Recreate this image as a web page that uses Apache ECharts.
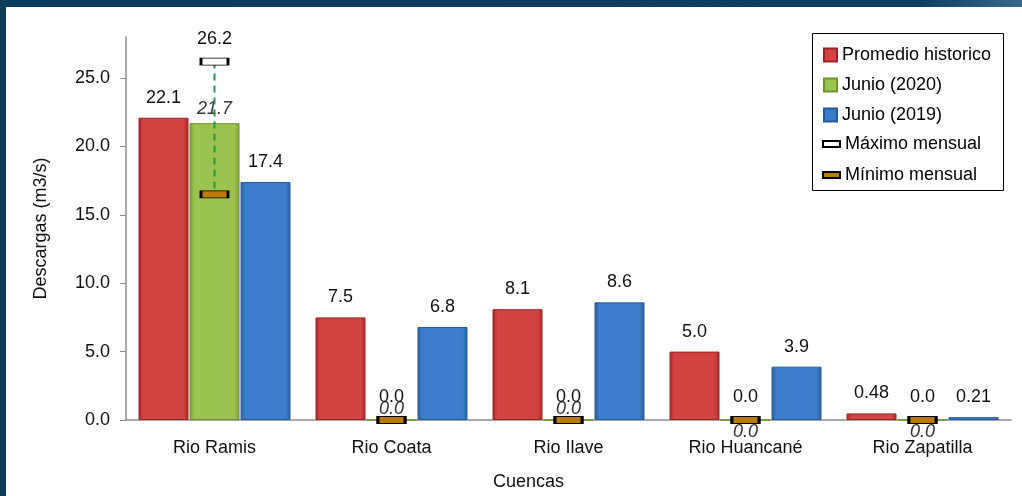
<!DOCTYPE html>
<html>
<head>
<meta charset="utf-8">
<script src="https://cdn.jsdelivr.net/npm/echarts@6/dist/echarts.min.js"></script>
<style>
html,body{margin:0;padding:0;background:#fff;}
#c{width:1022px;height:496px;}
</style>
</head>
<body>
<div id="c"></div>
<script>
const categories = ['Rio Ramis', 'Rio Coata', 'Rio Ilave', 'Rio Huancané', 'Rio Zapatilla'];
const promedio = [22.1, 7.5, 8.1, 5.0, 0.48];
const junio2020 = [21.7, 0.0, 0.0, 0.0, 0.0];
const junio2019 = [17.4, 6.8, 8.6, 3.9, 0.21];
const maximo = [26.2, 0.0, 0.0, 0.0, 0.0];
const minimo = [16.5, 0.0, 0.0, 0.0, 0.0];
const yTicks = [0, 5, 10, 15, 20, 25];

const FONT = 'Liberation Sans, Arial, sans-serif';
const fmt = v => (v > 0 && v < 1) ? v.toFixed(2) : v.toFixed(1);

// label placement styling for the green series (per category)
const greenLabelPos = [['top', 5], ['top', 2], ['top', 2], ['bottom', 2], ['bottom', 2]];

function barGrad(mid, dark) {
  return new echarts.graphic.LinearGradient(0, 0, 1, 0, [
    {offset: 0, color: dark}, {offset: 0.1, color: mid}, {offset: 0.9, color: mid}, {offset: 1, color: dark}
  ]);
}
const redFill = barGrad('#d44242', '#a82a2a');
const greenFill = barGrad('#9cc34f', '#76a032');
const blueFill = barGrad('#3b7dcb', '#2a5f9e');

const chart = echarts.init(document.getElementById('c'), null, {renderer: 'canvas'});

const barLabel = {
  show: true, position: 'top', distance: 11, color: '#111', fontSize: 18, fontFamily: FONT,
  formatter: p => fmt(p.value)
};

const option = {
  backgroundColor: '#fff',
  animation: false,
  textStyle: {fontFamily: FONT},
  graphic: [
    {type: 'rect', shape: {x: 0, y: 0, width: 1022, height: 7}, style: {fill: new echarts.graphic.LinearGradient(0, 0, 1, 0, [{offset: 0, color: '#0c3b5b'}, {offset: 0.9, color: '#0e3f60'}, {offset: 1, color: '#3a6a8a'}])}, z: 100},
    {type: 'rect', shape: {x: 0, y: 0, width: 6, height: 496}, style: {fill: '#0c3b5b'}, z: 100},
    {type: 'rect', shape: {x: 812.5, y: 33.5, width: 191, height: 157}, style: {fill: '#fff', stroke: '#000', lineWidth: 1}, z: 1}
  ],
  legend: [
    {
      orient: 'vertical', left: 818, top: 41, itemWidth: 13, itemHeight: 13, itemGap: 12, icon: 'rect',
      itemTextGap: 6,
      textStyle: {fontSize: 18, color: '#000', fontFamily: FONT},
      data: ['Promedio historico', 'Junio (2020)', 'Junio (2019)'],
      z: 10
    },
    {
      orient: 'vertical', left: 817, top: 130, itemWidth: 17, itemHeight: 6, itemGap: 13, icon: 'rect',
      itemTextGap: 5,
      textStyle: {fontSize: 18, color: '#000', fontFamily: FONT},
      data: ['Máximo mensual', 'Mínimo mensual'],
      z: 10
    }
  ],
  grid: {left: 126, right: 11, top: 37, bottom: 75, containLabel: false},
  xAxis: {
    type: 'category', data: categories,
    axisLine: {lineStyle: {color: '#8c8c8c', width: 1.5}},
    axisTick: {show: false},
    axisLabel: {color: '#111', fontSize: 18, margin: 19, fontFamily: FONT},
    name: 'Cuencas', nameLocation: 'middle', nameGap: 53,
    nameTextStyle: {color: '#111', fontSize: 18, fontFamily: FONT, padding: [0, 80, 0, 0]}
  },
  yAxis: {
    type: 'value', min: 0, max: 28, interval: 5,
    splitLine: {show: false},
    axisLine: {show: true, lineStyle: {color: '#8c8c8c', width: 1.5}},
    axisTick: {show: true, length: 6, lineStyle: {color: '#8c8c8c'}},
    axisLabel: {color: '#111', fontSize: 18, margin: 16, fontFamily: FONT, showMaxLabel: false,
      formatter: v => yTicks.indexOf(v) >= 0 ? v.toFixed(1) : ''},
    name: 'Descargas (m3/s)', nameLocation: 'middle', nameGap: 76, nameRotate: 90,
    nameTextStyle: {color: '#111', fontSize: 18, fontFamily: FONT}
  },
  series: [
    {
      name: 'Promedio historico', type: 'bar', data: promedio, barWidth: 50, barGap: '2%',
      itemStyle: {color: redFill, borderColor: '#9a2424', borderWidth: 1},
      label: barLabel, z: 2
    },
    {
      name: 'Junio (2020)', type: 'bar', data: junio2020.map((v, i) => ({
        value: v,
        label: {position: greenLabelPos[i][0], distance: greenLabelPos[i][1]}
      })), barWidth: 50, barGap: '2%',
      itemStyle: {color: greenFill, borderColor: '#6d9430', borderWidth: 1},
      label: {show: true, color: '#333', fontSize: 18, fontStyle: 'italic', fontFamily: FONT, formatter: p => fmt(p.value)},
      z: 2
    },
    {
      name: 'Junio (2019)', type: 'bar', data: junio2019, barWidth: 50, barGap: '2%',
      itemStyle: {color: blueFill, borderColor: '#2a5a96', borderWidth: 1},
      label: barLabel, z: 2
    },
    {
      name: 'range', type: 'custom', z: 4,
      data: maximo.map((v, i) => [i, v, minimo[i]]),
      renderItem: function (params, api) {
        const p1 = api.coord([api.value(0), api.value(1)]);
        const p2 = api.coord([api.value(0), api.value(2)]);
        return {type: 'line', shape: {x1: p1[0], y1: p1[1], x2: p2[0], y2: p2[1]},
          style: {stroke: '#16a046', lineWidth: 2, lineDash: [7, 5]}};
      },
      silent: true
    },
    {
      name: 'Máximo mensual', type: 'scatter', data: maximo, symbol: 'rect', symbolSize: [27, 7],
      itemStyle: {color: '#fff', borderColor: '#000', borderWidth: 1.5, opacity: 1},
      label: {show: true, position: 'top', distance: 10, color: '#111', fontSize: 18, fontFamily: FONT, opacity: 1, formatter: p => fmt(p.value)},
      z: 5
    },
    {
      name: 'Mínimo mensual', type: 'scatter', data: minimo, symbol: 'rect', symbolSize: [27, 7],
      itemStyle: {color: '#b97c0a', borderColor: '#000', borderWidth: 1.5, opacity: 1},
      z: 6
    }
  ]
};
chart.setOption(option);
</script>
</body>
</html>
